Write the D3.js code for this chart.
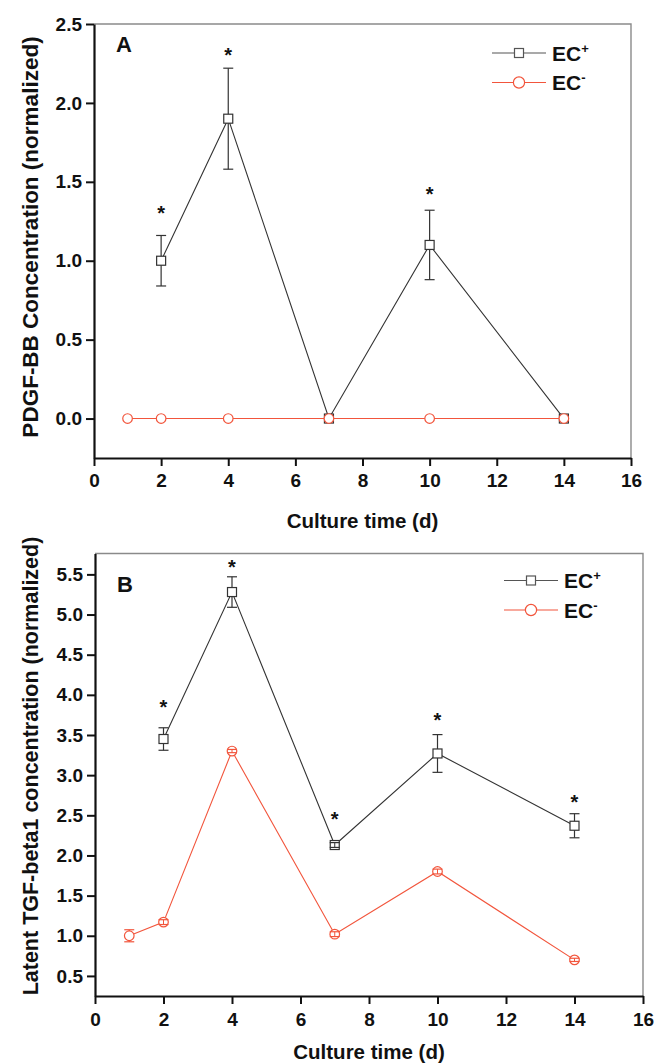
<!DOCTYPE html>
<html>
<head>
<meta charset="utf-8">
<script src="https://cdn.jsdelivr.net/npm/d3@7"></script>
<style>
  body { margin: 0; background: #fff; }
  svg { display: block; }
  text { font-family: "Liberation Sans", Arial, sans-serif; font-weight: bold; }
</style>
</head>
<body>
<svg id="chart" width="655" height="1064"></svg>
<script>
// ---- data ----
const xTickValues = [0, 2, 4, 6, 8, 10, 12, 14, 16];

// panel A: PDGF-BB
const pdgfTicks = [0, 0.5, 1.0, 1.5, 2.0, 2.5];
const pdgfDaysPos = [2, 4, 7, 10, 14];
const pdgfPos = [1.00, 1.90, 0.00, 1.10, 0.00];
const pdgfPosErr = [0.16, 0.32, 0, 0.22, 0];
const pdgfDaysNeg = [1, 2, 4, 7, 10, 14];
const pdgfNeg = [0, 0, 0, 0, 0, 0];
const pdgfNegErr = [0, 0, 0, 0, 0, 0];
const pdgfStarDays = [2, 4, 10];
const pdgfStarVals = [1.33, 2.33, 1.45];

// panel B: latent TGF-beta1
const tgfTicks = [0.5, 1.0, 1.5, 2.0, 2.5, 3.0, 3.5, 4.0, 4.5, 5.0, 5.5];
const tgfDaysPos = [2, 4, 7, 10, 14];
const tgfPos = [3.45, 5.28, 2.13, 3.27, 2.37];
const tgfPosErr = [0.14, 0.19, 0.03, 0.235, 0.15];
const tgfDaysNeg = [1, 2, 4, 7, 10, 14];
const tgfNeg = [1.00, 1.17, 3.30, 1.02, 1.80, 0.70];
const tgfNegErr = [0.075, 0.03, 0.02, 0.03, 0.03, 0.02];
const tgfStarDays = [2, 4, 7, 10, 14];
const tgfStarVals = [3.90, 5.64, 2.51, 3.74, 2.72];

const colPos = '#333';
const colNeg = '#f2553c';

const svg = d3.select('#chart');

function zip(xs, ys, es) {
  return xs.map((x, i) => ({x: x, y: ys[i], e: es ? es[i] : 0}));
}

function drawPanel(cfg) {
  const x = d3.scaleLinear().domain([0, 16]).range([cfg.left, cfg.right]);
  const y = d3.scaleLinear().domain(cfg.yDomain).range([cfg.bottom, cfg.top]);
  const g = svg.append('g');

  // thin grey frame on top and right
  g.append('path')
      .attr('d', `M${cfg.left},${cfg.top}H${cfg.right}V${cfg.bottom}`)
      .attr('fill', 'none')
      .attr('stroke', '#8a8a8a')
      .attr('stroke-width', 1.4);

  const xAxis = g.append('g')
      .attr('transform', `translate(0,${cfg.bottom})`)
      .call(d3.axisBottom(x).tickValues(xTickValues).tickFormat(d3.format('d'))
          .tickSize(8).tickPadding(cfg.xPad).tickSizeOuter(0));
  const yAxis = g.append('g')
      .attr('transform', `translate(${cfg.left},0)`)
      .call(d3.axisLeft(y).tickValues(cfg.yTicks).tickFormat(d3.format('.1f'))
          .tickSize(8).tickPadding(4).tickSizeOuter(0));

  [xAxis, yAxis].forEach(a => {
    a.select('.domain').attr('stroke', '#111').attr('stroke-width', 2.2);
    a.selectAll('.tick line').attr('stroke', '#111').attr('stroke-width', 2);
    a.selectAll('.tick text').attr('fill', '#111').attr('font-size', 19);
  });

  // axis titles
  g.append('text')
      .attr('transform', `translate(${cfg.yTitleX},${cfg.yTitleY}) rotate(-90)`)
      .attr('text-anchor', 'middle')
      .attr('font-size', cfg.yTitleSize)
      .attr('fill', '#111')
      .text(cfg.yTitle);
  g.append('text')
      .attr('x', (cfg.left + cfg.right) / 2)
      .attr('y', cfg.xTitleY)
      .attr('text-anchor', 'middle')
      .attr('font-size', 20.5)
      .attr('fill', '#111')
      .text('Culture time (d)');

  // panel letter
  g.append('text')
      .attr('x', cfg.left + 22)
      .attr('y', cfg.letterY)
      .attr('font-size', 22)
      .attr('fill', '#111')
      .text(cfg.letter);

  const line = d3.line().x(d => x(d.x)).y(d => y(d.y));
  const half = 4.8;

  function series(pts, color, shape) {
    const s = g.append('g');
    s.append('path').datum(pts)
        .attr('d', line)
        .attr('fill', 'none')
        .attr('stroke', color)
        .attr('stroke-width', 1.1);
    // error stems behind markers
    s.selectAll('line.stem').data(pts.filter(d => d.e > 0)).enter().append('line')
        .attr('x1', d => x(d.x)).attr('x2', d => x(d.x))
        .attr('y1', d => y(d.y + d.e)).attr('y2', d => y(d.y - d.e))
        .attr('stroke', color).attr('stroke-width', 1.2);
    if (shape === 'square') {
      s.selectAll('rect').data(pts).enter().append('rect')
          .attr('x', d => x(d.x) - 4.5).attr('y', d => y(d.y) - 4.5)
          .attr('width', 9).attr('height', 9)
          .attr('fill', '#fff').attr('stroke', color).attr('stroke-width', 1.2);
    } else {
      s.selectAll('circle').data(pts).enter().append('circle')
          .attr('cx', d => x(d.x)).attr('cy', d => y(d.y)).attr('r', half)
          .attr('fill', '#fff').attr('stroke', color).attr('stroke-width', 1.2);
    }
    // short bars that sit inside the marker stay visible on top
    const inner = pts.filter(d => d.e > 0 && y(d.y - d.e) - y(d.y) < half);
    s.selectAll('line.inner').data(inner).enter().append('line')
        .attr('x1', d => x(d.x)).attr('x2', d => x(d.x))
        .attr('y1', d => y(d.y + d.e)).attr('y2', d => y(d.y - d.e))
        .attr('stroke', color).attr('stroke-width', 1);
    // caps on top
    const caps = [];
    pts.filter(d => d.e > 0).forEach(d => {
      caps.push({x: d.x, v: d.y + d.e});
      caps.push({x: d.x, v: d.y - d.e});
    });
    s.selectAll('line.cap').data(caps).enter().append('line')
        .attr('x1', d => x(d.x) - 5).attr('x2', d => x(d.x) + 5)
        .attr('y1', d => y(d.v)).attr('y2', d => y(d.v))
        .attr('stroke', color).attr('stroke-width', 1.2);
  }

  series(zip(cfg.daysPos, cfg.pos, cfg.posErr), colPos, 'square');
  series(zip(cfg.daysNeg, cfg.neg, cfg.negErr), colNeg, 'circle');

  // significance stars
  g.selectAll('text.star').data(zip(cfg.starDays, cfg.starVals)).enter().append('text')
      .attr('x', d => x(d.x))
      .attr('y', d => y(d.y) + 11)
      .attr('text-anchor', 'middle')
      .attr('font-size', 20)
      .attr('fill', '#111')
      .text('*');

  // legend
  const leg = g.append('g');
  const items = [
    {label: 'EC', sup: '+', color: '#555', shape: 'square'},
    {label: 'EC', sup: '-', color: colNeg, shape: 'circle'}
  ];
  items.forEach((it, i) => {
    const ly = cfg.top + cfg.legY + i * 29.5;
    const lx = cfg.right - 139;
    leg.append('line')
        .attr('x1', lx).attr('x2', lx + 54)
        .attr('y1', ly).attr('y2', ly)
        .attr('stroke', it.color).attr('stroke-width', 1.2);
    if (it.shape === 'square') {
      leg.append('rect')
          .attr('x', lx + 27 - 4.5).attr('y', ly - 4.5)
          .attr('width', 9).attr('height', 9)
          .attr('fill', '#fff').attr('stroke', it.color).attr('stroke-width', 1.2);
    } else {
      leg.append('circle')
          .attr('cx', lx + 27).attr('cy', ly).attr('r', 5.6)
          .attr('fill', '#fff').attr('stroke', it.color).attr('stroke-width', 1.2);
    }
    const t = leg.append('text')
        .attr('x', lx + 60).attr('y', ly + 7.5)
        .attr('font-size', 21)
        .attr('fill', '#111')
        .text(it.label);
    t.append('tspan')
        .attr('dy', -8)
        .attr('font-size', 13)
        .text(it.sup);
  });
}

drawPanel({
  left: 94, right: 631, top: 24, bottom: 458,
  yDomain: [-0.25, 2.5], yTicks: pdgfTicks, xPad: 8,
  yTitle: 'PDGF-BB Concentration (normalized)', yTitleX: 38, yTitleY: 237, yTitleSize: 22.5,
  xTitleY: 528, letter: 'A', letterY: 52, legY: 29,
  daysPos: pdgfDaysPos, pos: pdgfPos, posErr: pdgfPosErr,
  daysNeg: pdgfDaysNeg, neg: pdgfNeg, negErr: pdgfNegErr,
  starDays: pdgfStarDays, starVals: pdgfStarVals
});

drawPanel({
  left: 95, right: 643, top: 553.5, bottom: 996,
  yDomain: [0.25, 5.76], yTicks: tgfTicks, xPad: 9,
  yTitle: 'Latent TGF-beta1 concentration (normalized)', yTitleX: 38, yTitleY: 766, yTitleSize: 21.5,
  xTitleY: 1059, letter: 'B', letterY: 592, legY: 27,
  daysPos: tgfDaysPos, pos: tgfPos, posErr: tgfPosErr,
  daysNeg: tgfDaysNeg, neg: tgfNeg, negErr: tgfNegErr,
  starDays: tgfStarDays, starVals: tgfStarVals
});
</script>
</body>
</html>
